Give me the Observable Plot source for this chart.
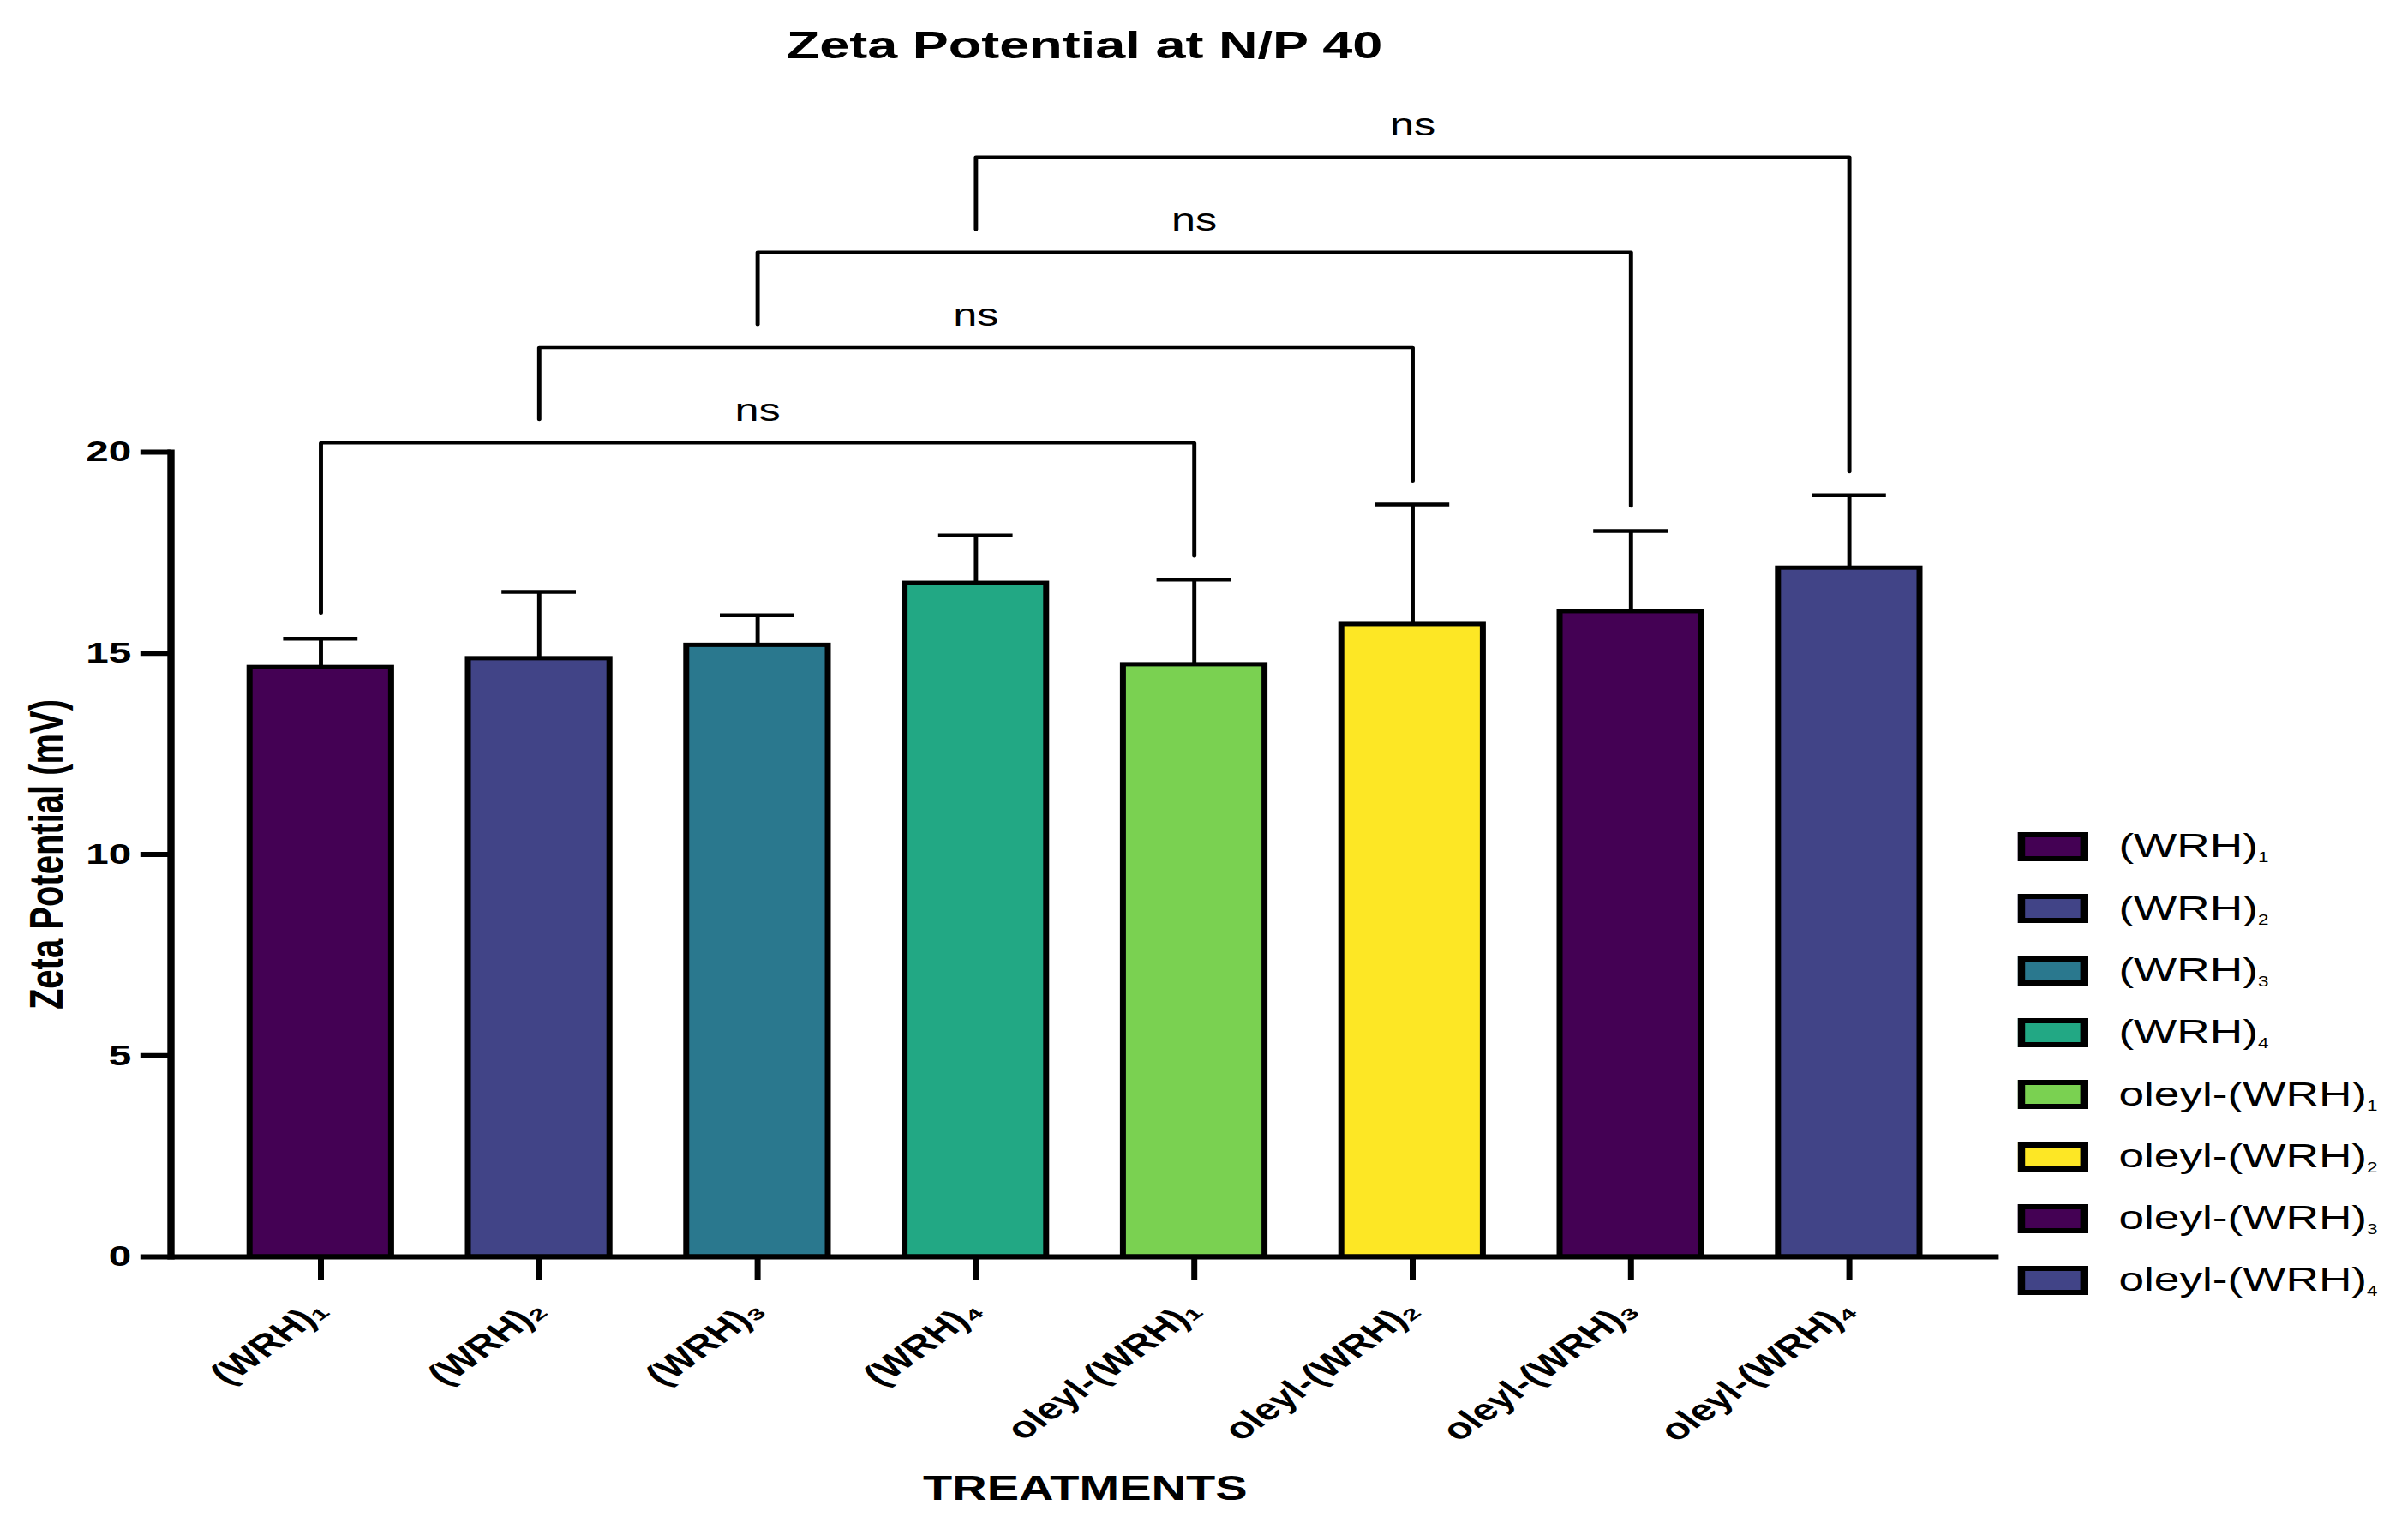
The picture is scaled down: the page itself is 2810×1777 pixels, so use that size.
<!DOCTYPE html>
<html><head><meta charset="utf-8">
<script src="https://cdn.jsdelivr.net/npm/d3@7"></script>
<script src="https://cdn.jsdelivr.net/npm/@observablehq/plot@0.6"></script>
<style>
html,body{margin:0;padding:0;background:#fff;overflow:hidden;}
#wrap{position:relative;width:2007px;height:1777px;transform:scaleX(1.4);transform-origin:0 0;font-family:"Liberation Sans",Arial,sans-serif;color:#000;}
#title{height:95px;box-sizing:border-box;padding-left:142px;width:1666px;text-align:center;font-weight:bold;font-size:45px;line-height:106px;}
#legend{position:absolute;left:1682px;top:952px;}
.row{display:flex;align-items:center;height:72.3px;font-size:38px;white-space:nowrap;}
.sw{width:46px;height:22px;border:6px solid #000;margin-right:26px;flex:none;}
.row sub{font-size:0.42em;vertical-align:-0.35em;}
svg{overflow:visible;}
</style></head>
<body>
<div id="wrap">
  <div id="title"></div>
  <div id="chart"></div>
  <div id="legend"></div>
</div>
<script>
const titleText = "Zeta Potential at N/P 40";
const yLabel = "Zeta Potential (mV)";
const xLabel = "TREATMENTS";
const treatments = ["(WRH)₁","(WRH)₂","(WRH)₃","(WRH)₄","oleyl-(WRH)₁","oleyl-(WRH)₂","oleyl-(WRH)₃","oleyl-(WRH)₄"];
const means = [14.65, 14.87, 15.2, 16.74, 14.72, 15.72, 16.04, 17.12];
const errors = [0.71, 1.66, 0.75, 1.19, 2.11, 2.98, 2.0, 1.81];
const colors = ["#440154","#414487","#2a788e","#22a884","#7ad151","#fde725","#440154","#414487"];
const yTicks = [0, 5, 10, 15, 20];

const bracketFrom = [0, 1, 2, 3];
const bracketTo = [4, 5, 6, 7];
const bracketY = [20.23, 22.6, 24.97, 27.33];
const bracketLeftEnd = [16.0, 20.81, 23.17, 25.53];
const bracketRightEnd = [17.42, 19.28, 18.66, 19.51];
const bracketLabels = ["ns", "ns", "ns", "ns"];

const rows = treatments.map((name, i) => ({name, mean: means[i], hi: means[i] + errors[i], color: colors[i]}));
const bracketPts = [];
const bracketText = [];
bracketFrom.forEach((f, k) => {
  const t = bracketTo[k];
  bracketPts.push({k, x: treatments[f], y: bracketLeftEnd[k]});
  bracketPts.push({k, x: treatments[f], y: bracketY[k]});
  bracketPts.push({k, x: treatments[t], y: bracketY[k]});
  bracketPts.push({k, x: treatments[t], y: bracketRightEnd[k]});
  bracketText.push({x: treatments[(f + t) / 2], y: bracketY[k], text: bracketLabels[k]});
});

document.getElementById("title").textContent = titleText;

const chart = Plot.plot({
  width: 2007,
  height: 1682,
  marginLeft: 142,
  marginRight: 341,
  marginTop: 432,
  marginBottom: 311,
  style: {fontFamily: '"Liberation Sans", Arial, sans-serif', color: "#000", background: "transparent", overflow: "visible"},
  x: {domain: treatments, padding: 0.35},
  y: {domain: [0, 20]},
  marks: [
    Plot.ruleX(rows, {x: "name", y1: "mean", y2: "hi", stroke: "#000", strokeWidth: 3.5}),
    Plot.tickY(rows, {x: "name", y: "hi", stroke: "#000", strokeWidth: 4.5, insetLeft: 28, insetRight: 28}),
    Plot.barY(rows, {x: "name", y: "mean", fill: "color", stroke: "#000", strokeWidth: 5}),
    Plot.line(bracketPts, {x: "x", y: "y", z: "k", stroke: "#000", strokeWidth: 3.5}),
    Plot.text(bracketText, {x: "x", y: "y", text: "text", dy: -37, fontSize: 36, fill: "#000"}),
    Plot.ruleY([0], {stroke: "#000", strokeWidth: 6}),
    Plot.frame({anchor: "left", stroke: "#000", strokeWidth: 6}),
    Plot.axisY({ticks: yTicks, tickSize: 25, tickPadding: 8, fontSize: 34, fontWeight: "bold", strokeWidth: 6, stroke: "#000", fill: "#000", label: null}),
    Plot.axisX({tickSize: 27, tickRotate: -45, tickPadding: 30, fontSize: 35, fontWeight: "bold", strokeWidth: 5, stroke: "#000", fill: "#000", label: null}),
    Plot.text([yLabel], {text: d => d, frameAnchor: "left", textAnchor: "middle", lineAnchor: "middle", rotate: -90, dx: -103, fontSize: 40, fontWeight: "bold", fill: "#000"}),
    Plot.text([xLabel], {text: d => d, frameAnchor: "bottom", textAnchor: "middle", lineAnchor: "middle", dy: 271, fontSize: 40, fontWeight: "bold", fill: "#000"})
  ]
});
document.getElementById("chart").appendChild(chart);

const subMap = {"₁": "1", "₂": "2", "₃": "3", "₄": "4"};
const legend = document.getElementById("legend");
treatments.forEach((name, i) => {
  const row = document.createElement("div");
  row.className = "row";
  const sw = document.createElement("div");
  sw.className = "sw";
  sw.style.background = colors[i];
  const label = document.createElement("span");
  const last = name.slice(-1);
  label.innerHTML = name.slice(0, -1) + "<sub>" + subMap[last] + "</sub>";
  row.appendChild(sw);
  row.appendChild(label);
  legend.appendChild(row);
});
</script>
</body></html>
